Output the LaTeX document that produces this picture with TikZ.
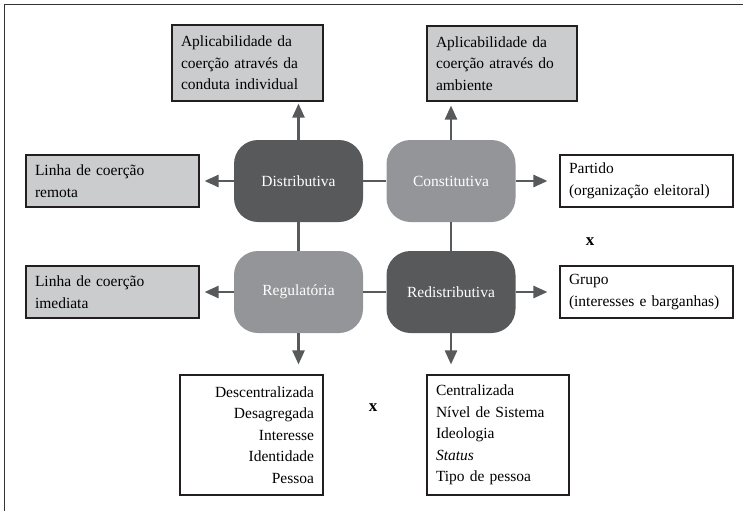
\documentclass[tikz,border=0pt]{standalone}
\usepackage{fontspec}
\setmainfont{Liberation Serif}
\usetikzlibrary{arrows.meta}
\definecolor{darkn}{HTML}{58595B}
\definecolor{lightn}{HTML}{939598}
\definecolor{grayfill}{HTML}{CBCCCD}
\definecolor{edge}{HTML}{231F20}
\begin{document}
\begin{tikzpicture}[x=1pt,y=-1pt,
  every node/.style={font=\fontsize{15.5}{21.5}\selectfont},
  core/.style={rounded corners=24pt, minimum width=129pt, minimum height=82pt, inner sep=0pt, text=white},
  darkcore/.style={core, fill=darkn},
  lightcore/.style={core, fill=lightn},
  infobox/.style={draw=edge, line width=1.1pt, inner xsep=9pt, inner ysep=0pt, align=left, text=black},
  graybox/.style={infobox, fill=grayfill},
  conn/.style={draw=darkn, line width=2.4pt},
  arr/.style={draw=darkn, line width=2.4pt, -{Triangle[length=14pt,width=12pt]}},
  frameline/.style={draw=black!80, line width=1.6pt}
]
\useasboundingbox (0,0) rectangle (743,511);
\draw[frameline] (4.5,511) -- (4.5,4.5) -- (743,4.5);

% core nodes
\node[darkcore]  (dist) at (298.5,181) {Distributiva};
\node[lightcore] (con)  at (451,181)   {Constitutiva};
\node[lightcore] (reg)  at (298.5,292) {Regulatória};
\node[darkcore]  (red)  at (451,292)   {Redistributiva};

% boxes
\node[graybox, text width=133pt, minimum height=76pt] (tl) at (247.5,63) {Aplicabilidade da\\coerção através da\\conduta individual};
\node[graybox, text width=132pt, minimum height=75pt] (tr) at (502,63.5) {Aplicabilidade da\\coerção através do\\ambiente};
\node[graybox, text width=155pt, minimum height=52pt] (lr) at (112.5,181) {Linha de coerção\\remota};
\node[graybox, text width=155pt, minimum height=52pt] (li) at (112.5,292) {Linha de coerção\\imediata};
\node[infobox, fill=white, text width=155pt, minimum height=52pt] (rp) at (646.5,181) {Partido\\(organização eleitoral)};
\node[infobox, fill=white, text width=155pt, minimum height=52pt] (rg) at (646.5,292) {Grupo\\(interesses e barganhas)};
\node[infobox, fill=white, align=right, text width=125pt, minimum height=120pt] (bl) at (251.5,435) {Descentralizada\\Desagregada\\Interesse\\Identidade\\Pessoa};
\node[infobox, fill=white, text width=124pt, minimum height=120pt] (br) at (498,435) {Centralizada\\Nível de Sistema\\Ideologia\\\textit{Status}\\Tipo de pessoa};

\node[font=\fontsize{17}{18}\selectfont\bfseries] (x1) at (590,242) {x};
\node[font=\fontsize{17}{18}\selectfont\bfseries] (x2) at (373,408) {x};

% connectors between cores
\draw[conn] (dist.east) -- (con.west);
\draw[conn] (reg.east) -- (red.west);
\draw[conn] (dist.south) -- (reg.north);
\draw[conn] (con.south) -- (red.north);

% arrows
\draw[arr, shorten >=2pt] (dist.north) -- (dist.north |- tl.south);
\draw[arr, shorten >=4pt] (con.north) -- (con.north |- tr.south);
\draw[arr, shorten >=5pt] (dist.west) -- (lr.east);
\draw[arr, shorten >=5pt] (reg.west) -- (li.east);
\draw[arr, shorten >=12pt] (con.east) -- (rp.west);
\draw[arr, shorten >=12pt] (red.east) -- (rg.west);
\draw[arr, shorten >=10pt] (reg.south) -- (reg.south |- bl.north);
\draw[arr, shorten >=10pt] (red.south) -- (red.south |- br.north);
\end{tikzpicture}
\end{document}
